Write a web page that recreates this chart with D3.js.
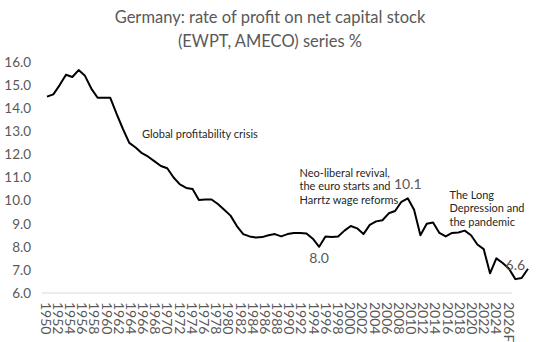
<!DOCTYPE html>
<html lang="en">
<head>
  <meta charset="utf-8">
  <title>Germany rate of profit</title>
  <script src="https://cdn.jsdelivr.net/npm/d3@7"></script>
  <style>
    body { margin: 0; background: #fff; }
    svg { display: block; font-family: Lato, "Open Sans", sans-serif; }
  </style>
</head>
<body>
<script>
  // data
  var years = [1950, 1951, 1952, 1953, 1954, 1955, 1956, 1957, 1958, 1959,
               1960, 1961, 1962, 1963, 1964, 1965, 1966, 1967, 1968, 1969,
               1970, 1971, 1972, 1973, 1974, 1975, 1976, 1977, 1978, 1979,
               1980, 1981, 1982, 1983, 1984, 1985, 1986, 1987, 1988, 1989,
               1990, 1991, 1992, 1993, 1994, 1995, 1996, 1997, 1998, 1999,
               2000, 2001, 2002, 2003, 2004, 2005, 2006, 2007, 2008, 2009,
               2010, 2011, 2012, 2013, 2014, 2015, 2016, 2017, 2018, 2019,
               2020, 2021, 2022, 2023, 2024, 2025, 2026];
  var profitRate = [14.5, 14.6, 15.0, 15.45, 15.35, 15.65, 15.4, 14.85, 14.45, 14.45,
                    14.45, 13.75, 13.1, 12.5, 12.3, 12.05, 11.9, 11.7, 11.5, 11.4,
                    11.0, 10.7, 10.55, 10.5, 10.03, 10.05, 10.05, 9.85, 9.6, 9.35,
                    8.9, 8.55, 8.45, 8.4, 8.42, 8.5, 8.55, 8.45, 8.55, 8.6,
                    8.6, 8.58, 8.35, 8.0, 8.45, 8.42, 8.45, 8.7, 8.9, 8.8,
                    8.55, 8.95, 9.1, 9.15, 9.45, 9.55, 9.95, 10.1, 9.6, 8.5,
                    9.0, 9.05, 8.6, 8.45, 8.6, 8.62, 8.7, 8.5, 8.1, 7.9,
                    6.85, 7.5, 7.3, 7.05, 6.6, 6.65, 7.05];
  var tickLabels = ["1950", "1952", "1954", "1956", "1958", "1960", "1962", "1964",
                    "1966", "1968", "1970", "1972", "1974", "1976", "1978", "1980",
                    "1982", "1984", "1986", "1988", "1990", "1992", "1994", "1996",
                    "1998", "2000", "2002", "2004", "2006", "2008", "2010", "2012",
                    "2014", "2016", "2018", "2020", "2022", "2024", "2026F"];
  var yTicks = [6, 7, 8, 9, 10, 11, 12, 13, 14, 15, 16];
  var labelledYears = [1993, 2007, 2024];
  var titleLines = ["Germany: rate of profit on net capital stock", "(EWPT, AMECO) series %"];
  var notes = [
    { year: 1965, value: 12.7, lines: ["Global profitability crisis"] },
    { year: 1989.9, value: 11.04, lines: ["Neo-liberal revival,", "the euro starts and", "Harrtz wage reforms"] },
    { year: 2013.6, value: 10.07, lines: ["The Long", "Depression and", "the pandemic"] }
  ];

  var width = 540;
  var height = 342;
  var grey = "#595959";

  var x = d3.scaleLinear().domain([1950, 2026]).range([47, 528]);
  var xTicks = d3.scalePoint().domain(tickLabels).range([45, 508]);
  var y = d3.scaleLinear().domain([6, 16]).range([293, 62]);

  var svg = d3.select("body").append("svg")
              .attr("width", width)
              .attr("height", height);

  var title = svg.append("text")
                 .attr("text-anchor", "middle")
                 .attr("fill", grey)
                 .attr("font-size", 16.5);
  title.selectAll("tspan")
       .data(titleLines)
       .enter()
       .append("tspan")
       .attr("x", 270)
       .attr("y", function(d, i) { return 23 + i * 24; })
       .text(function(d) { return d; });

  // y axis: labels only
  var yAxis = d3.axisLeft(y)
                .tickValues(yTicks)
                .tickFormat(d3.format(".1f"))
                .tickSize(0)
                .tickPadding(0);
  var gy = svg.append("g")
              .attr("transform", "translate(31,0)")
              .call(yAxis);
  gy.select(".domain").remove();
  gy.selectAll("text")
    .attr("fill", grey)
    .attr("font-size", 13.5)
    .attr("font-family", "Lato, sans-serif");

  // baseline at 6.0
  svg.append("line")
     .attr("x1", 42)
     .attr("x2", 512)
     .attr("y1", y(6))
     .attr("y2", y(6))
     .attr("stroke", "#d9d9d9")
     .attr("stroke-width", 1);

  var xAxis = d3.axisBottom(xTicks).tickSize(0).tickPadding(0);
  var gx = svg.append("g")
              .attr("transform", "translate(0," + (y(6) + 9) + ")")
              .call(xAxis);
  gx.select(".domain").remove();
  gx.selectAll("text")
    .attr("fill", grey)
    .attr("font-size", 14)
    .attr("font-family", "Lato, sans-serif")
    .attr("text-anchor", "start")
    .attr("dy", "0.35em")
    .attr("y", 0)
    .attr("transform", "rotate(90)");

  var line = d3.line()
               .x(function(d, i) { return x(years[i]); })
               .y(function(d) { return y(d); });

  svg.append("path")
     .datum(profitRate)
     .attr("fill", "none")
     .attr("stroke", "#000")
     .attr("stroke-width", 2)
     .attr("stroke-linejoin", "round")
     .attr("d", line);

  // data labels
  svg.selectAll(".dataLabel")
     .data(labelledYears)
     .enter()
     .append("text")
     .attr("class", "dataLabel")
     .attr("text-anchor", "middle")
     .attr("fill", grey)
     .attr("font-size", 14)
     .attr("x", function(d) { return x(d); })
     .attr("y", function(d) {
       var v = profitRate[years.indexOf(d)];
       return d == 1993 ? y(v) + 16 : y(v) - 9;
     })
     .text(function(d) { return profitRate[years.indexOf(d)].toFixed(1); });

  // annotations
  notes.forEach(function(n) {
    var t = svg.append("text")
               .attr("fill", "#262626")
               .attr("font-size", 11);
    t.selectAll("tspan")
     .data(n.lines)
     .enter()
     .append("tspan")
     .attr("x", x(n.year))
     .attr("y", function(d, i) { return y(n.value) + i * 13.5; })
     .text(function(d) { return d; });
  });
</script>
</body>
</html>
